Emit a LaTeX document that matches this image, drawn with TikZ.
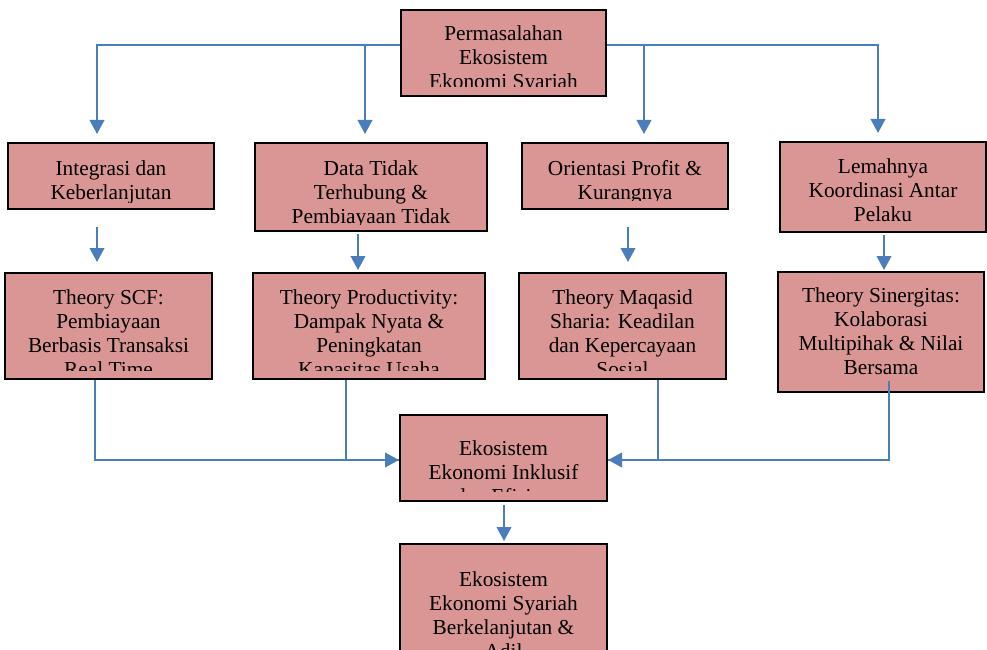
\documentclass[tikz,border=0pt]{standalone}
\usepackage{fontspec}
\setmainfont{Liberation Serif}
\usetikzlibrary{arrows.meta, calc, fit}

\definecolor{kotakmerah}{HTML}{D99694}
\definecolor{garisbiru}{HTML}{4A7EBB}

\begin{document}
\begin{tikzpicture}[x=0.75pt, y=-0.75pt,
                kotak/.style={draw=black, fill=kotakmerah, line width=1.5pt, inner sep=0pt},
                teks/.style={anchor=north, align=center, inner sep=0pt, font=\fontsize{16}{18}\selectfont,
                             execute at begin node={\rule{0pt}{12.6pt}}},
                garis/.style={draw=garisbiru, line width=1.3pt},
                panah/.style={garis, -{Triangle[width=11pt, length=10.5pt]}}]
                \useasboundingbox (0,0) rectangle (987,649);
                \clip (0,0) rectangle (987,649);

                % Boxes
                \node[kotak, fit={(401,10) (606,96)}] (masalah) {};
                \node[kotak, fit={(8,143) (214,209)}] (integrasi) {};
                \node[kotak, fit={(255,143) (487,231)}] (data) {};
                \node[kotak, fit={(522,143) (728,209)}] (orientasi) {};
                \node[kotak, fit={(780,142) (986,232)}] (lemahnya) {};
                \node[kotak, fit={(5,273) (212,379)}] (scf) {};
                \node[kotak, fit={(253,273) (485,379)}] (produktivitas) {};
                \node[kotak, fit={(519,273) (726,379)}] (maqasid) {};
                \node[kotak, fit={(778,272) (984,392)}] (sinergitas) {};
                \node[kotak, fit={(400,415) (607,501)}] (inklusif) {};
                \node[kotak, fit={(400,544) (607,690)}] (syariah) {};

                % Texts (cut off at the bottom of each box)
                \begin{scope}
                \clip (masalah.north west) rectangle ($(masalah.south east)+(0,-10)$);
                \node[teks] (masalah-t) at ($(masalah.north)+(0,16)$) {Permasalahan\\Ekosistem\\Ekonomi Syariah};
                \end{scope}
                \begin{scope}
                \clip (integrasi.north west) rectangle ($(integrasi.south east)+(0,-8)$);
                \node[teks] (integrasi-t) at ($(integrasi.north)+(0,18)$) {Integrasi dan\\Keberlanjutan};
                \end{scope}
                \begin{scope}
                \clip (data.north west) rectangle ($(data.south east)+(0,-8)$);
                \node[teks] (data-t) at ($(data.north)+(0,18)$) {Data Tidak\\Terhubung \&\\Pembiayaan Tidak};
                \end{scope}
                \begin{scope}
                \clip (orientasi.north west) rectangle ($(orientasi.south east)+(0,-10)$);
                \node[teks] (orientasi-t) at ($(orientasi.north)+(0,18)$) {Orientasi Profit \&\\Kurangnya};
                \end{scope}
                \node[teks] (lemahnya-t) at ($(lemahnya.north)+(0,17)$) {Lemahnya\\Koordinasi Antar\\Pelaku};
                \begin{scope}
                \clip (scf.north west) rectangle ($(scf.south east)+(0,-10)$);
                \node[teks] (scf-t) at ($(scf.north)+(0,17)$) {Theory SCF:\\Pembiayaan\\Berbasis Transaksi\\Real Time};
                \end{scope}
                \begin{scope}
                \clip (produktivitas.north west) rectangle ($(produktivitas.south east)+(0,-10)$);
                \node[teks] (produktivitas-t) at ($(produktivitas.north)+(0,17)$) {Theory Productivity:\\Dampak Nyata \&\\Peningkatan\\Kapasitas Usaha};
                \end{scope}
                \begin{scope}
                \clip (maqasid.north west) rectangle ($(maqasid.south east)+(0,-10)$);
                \node[teks] (maqasid-t) at ($(maqasid.north)+(0,17)$) {Theory Maqasid\\Sharia: Keadilan\\dan Kepercayaan\\Sosial};
                \end{scope}
                \node[teks] (sinergitas-t) at ($(sinergitas.north)+(0,16)$) {Theory Sinergitas:\\Kolaborasi\\Multipihak \& Nilai\\Bersama};
                \begin{scope}
                \clip (inklusif.north west) rectangle ($(inklusif.south east)+(0,-11)$);
                \node[teks] (inklusif-t) at ($(inklusif.north)+(0,26)$) {Ekosistem\\Ekonomi Inklusif\\dan Efisien};
                \end{scope}
                \node[teks] (syariah-t) at ($(syariah.north)+(0,28)$) {Ekosistem\\Ekonomi Syariah\\Berkelanjutan \&\\Adil};

                % Problem to the four issues
                \draw[panah] ($(masalah.west)+(0,-8)$) -| ($(integrasi.north)+(-14,-8)$);
                \draw[panah] ($(masalah.west)+(0,-8)$) -| ($(data.north)+(-6,-8)$);
                \draw[panah] ($(masalah.east)+(0,-8)$) -| ($(orientasi.north)+(19,-8)$);
                \draw[panah] ($(masalah.east)+(0,-8)$) -| ($(lemahnya.north)+(-5,-8)$);

                % Issues to theories
                \draw[panah] ($(integrasi.south)+(-14,17)$) -- ($(scf.north)+(-11.5,-10)$);
                \draw[panah] ($(data.south)+(-13,2)$) -- ($(produktivitas.north)+(-11,-2)$);
                \draw[panah] ($(orientasi.south)+(3,17)$) -- ($(maqasid.north)+(5.5,-10)$);
                \draw[panah] ($(lemahnya.south)+(1,2)$) -- ($(sinergitas.north)+(3,-1)$);

                % Theories to the inclusive ecosystem
                \draw[garis] ($(produktivitas.south)+(-23,0)$) |- ($(inklusif.west)+(0,2)$);
                \draw[panah] ($(scf.south)+(-13.5,0)$) |- ($(inklusif.west)+(0,2)$);
                \draw[garis] ($(maqasid.south)+(35.5,0)$) |- ($(inklusif.east)+(0,2)$);
                \draw[panah] ($(sinergitas.south)+(8,-12)$) |- ($(inklusif.east)+(0,2)$);

                % Result
                \draw[panah] ($(inklusif.south)+(0.5,3)$) -- ($(syariah.north)+(0.5,-2)$);
\end{tikzpicture}
\end{document}
